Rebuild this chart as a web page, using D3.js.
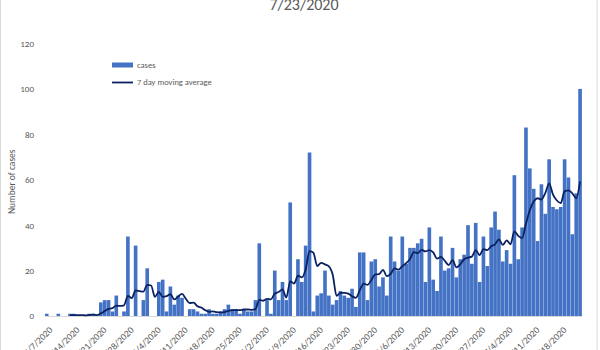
<!DOCTYPE html>
<html>
<head>
<meta charset="utf-8">
<script src="https://cdn.jsdelivr.net/npm/d3@7"></script>
<style>
  html, body { margin: 0; padding: 0; background: #fff; }
  svg { display: block; font-family: Calibri, Carlito, Lato, sans-serif; }
</style>
</head>
<body>
<svg id="chart" width="600" height="350"></svg>
<script>
// Daily reported cases, 3/7/2020 through 7/23/2020
const startDate = "2020-03-07";
const cases = [
  1, 0, 0, 1, 0, 0, 1, 1, 0, 0, 0, 1, 1, 0,
  6, 7, 7, 2, 9, 0, 2, 35, 0, 31, 0, 7, 21, 0,
  0, 15, 16, 2, 13, 5, 9, 8, 0, 3, 3, 2, 1, 1,
  3, 1, 1, 2, 3, 5, 3, 3, 1, 3, 2, 2, 7, 32,
  0, 7, 1, 20, 7, 15, 7, 50, 0, 25, 15, 31, 72, 2,
  9, 10, 20, 9, 5, 7, 11, 9, 8, 12, 4, 28, 28, 7,
  24, 25, 13, 17, 9, 35, 24, 20, 35, 23, 30, 30, 32, 34,
  15, 39, 16, 11, 35, 20, 21, 30, 17, 25, 27, 40, 23, 41,
  15, 35, 22, 39, 46, 38, 24, 29, 23, 62, 25, 39, 83, 65,
  56, 33, 58, 45, 69, 48, 47, 48, 69, 61, 36, 54, 100
];
const tickLabels = [
  "3/7/2020", "3/14/2020", "3/21/2020", "3/28/2020", "4/4/2020",
  "4/11/2020", "4/18/2020", "4/25/2020", "5/2/2020", "5/9/2020",
  "5/16/2020", "5/23/2020", "5/30/2020", "6/6/2020", "6/13/2020",
  "6/20/2020", "6/27/2020", "7/4/2020", "7/11/2020", "7/18/2020"
];
const yTicks = [0, 20, 40, 60, 80, 100, 120];
const titleText = "7/23/2020";
const seriesNames = ["cases", "7 day moving average"];
const period = 7;

const barColor = "#4472C4";
const lineColor = "#0B2261";
const textColor = "#595959";

const parse = d3.timeParse("%Y-%m-%d");
const days = d3.timeDay.range(parse(startDate), d3.timeDay.offset(parse(startDate), cases.length));
const data = days.map((d, i) => ({ i, date: d, value: cases[i] }));

// trailing 7-day mean, starting once a full window is available
const avg = data.slice(period - 1).map(d => ({
  i: d.i,
  value: d3.mean(cases.slice(d.i - period + 1, d.i + 1))
}));

const svg = d3.select("#chart");
const plot = { left: 44.8, right: 582, top: 43.5, bottom: 316 };

const x = d3.scaleBand()
  .domain(data.map(d => d.i))
  .range([plot.left, plot.right])
  .paddingInner(0.06)
  .paddingOuter(0.03);

const y = d3.scaleLinear().domain([0, 120]).range([plot.bottom, plot.top]);

// chart area frame
svg.append("rect")
  .attr("x", 0.5).attr("y", -5)
  .attr("width", 596.5).attr("height", 365)
  .attr("fill", "none").attr("stroke", "#d9d9d9");

// title (partly above the visible area)
svg.append("text")
  .attr("x", 304).attr("y", 10)
  .attr("text-anchor", "middle")
  .attr("font-size", 16)
  .attr("fill", textColor)
  .text(titleText);

// y axis labels
const yAxis = d3.axisLeft(y).tickValues(yTicks).tickSize(0).tickPadding(0);
const gy = svg.append("g").attr("transform", "translate(34,0)").call(yAxis);
gy.select(".domain").remove();
gy.selectAll("text")
  .attr("fill", textColor)
  .attr("font-size", 9)
  .attr("font-family", "Calibri, Carlito, Lato, sans-serif");

svg.append("text")
  .attr("transform", `translate(15,${(plot.top + plot.bottom) / 2 + 2}) rotate(-90)`)
  .attr("text-anchor", "middle")
  .attr("font-size", 9.5)
  .attr("fill", textColor)
  .text("Number of cases");

// bars
svg.append("g")
  .selectAll("rect")
  .data(data)
  .join("rect")
  .attr("x", d => x(d.i))
  .attr("width", x.bandwidth())
  .attr("y", d => y(d.value))
  .attr("height", d => y(0) - y(d.value))
  .attr("fill", barColor);

// x axis
const tickIdx = tickLabels.map((_, k) => k * 7);
const xAxis = d3.axisBottom(x)
  .tickValues(tickIdx)
  .tickFormat((d, k) => tickLabels[k])
  .tickSize(0)
  .tickSizeOuter(0);
const gx = svg.append("g").attr("transform", `translate(0,${plot.bottom})`).call(xAxis);
gx.select(".domain").attr("stroke", "#d9d9d9").attr("stroke-width", 1);
gx.selectAll("text")
  .attr("fill", textColor)
  .attr("font-size", 9.5)
  .attr("font-family", "Calibri, Carlito, Lato, sans-serif")
  .attr("text-anchor", "end")
  .attr("dy", null)
  .attr("y", null)
  .attr("transform", `translate(${x.bandwidth() / 2 + 3},13) rotate(-45)`)
  .attr("dominant-baseline", "middle");

// moving average line
const line = d3.line()
  .x(d => x(d.i) + x.bandwidth() / 2)
  .y(d => y(d.value))
  .curve(d3.curveMonotoneX);

svg.append("path")
  .datum(avg)
  .attr("fill", "none")
  .attr("stroke", lineColor)
  .attr("stroke-width", 1.8)
  .attr("stroke-linejoin", "round")
  .attr("d", line);

// legend
const legend = svg.append("g").attr("transform", "translate(112,0)");
legend.append("rect")
  .attr("x", 0).attr("y", 62.5).attr("width", 21).attr("height", 5)
  .attr("fill", barColor);
legend.append("text")
  .attr("x", 25).attr("y", 65.5).attr("dominant-baseline", "middle")
  .attr("font-size", 8.5).attr("fill", textColor)
  .text(seriesNames[0]);
legend.append("line")
  .attr("x1", 0).attr("x2", 21).attr("y1", 82.5).attr("y2", 82.5)
  .attr("stroke", lineColor).attr("stroke-width", 1.8);
legend.append("text")
  .attr("x", 25).attr("y", 82.5).attr("dominant-baseline", "middle")
  .attr("font-size", 8.5).attr("fill", textColor)
  .text(seriesNames[1]);
</script>
</body>
</html>
